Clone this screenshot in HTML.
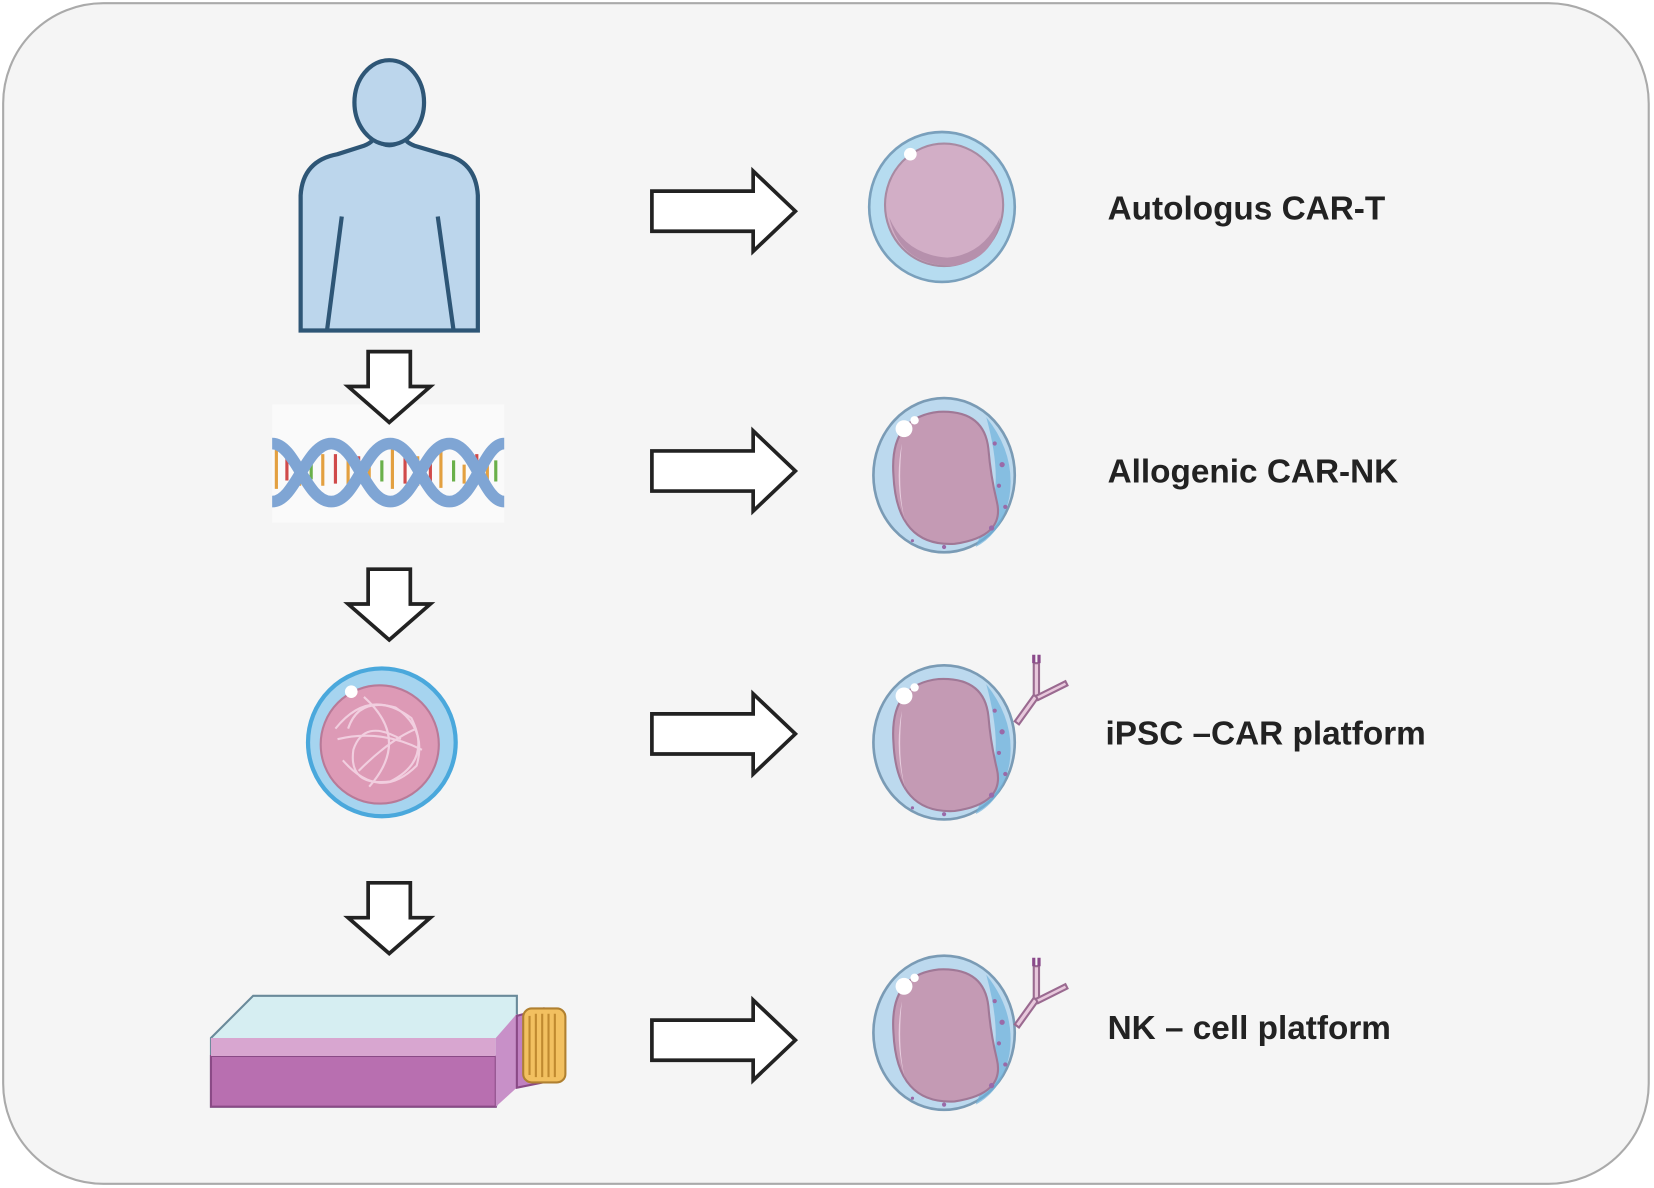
<!DOCTYPE html>
<html><head><meta charset="utf-8"><style>
html,body{margin:0;padding:0;background:#fff;}
svg{display:block;}
</style></head><body>
<svg width="1654" height="1188" viewBox="0 0 1568 1125" preserveAspectRatio="none" xmlns="http://www.w3.org/2000/svg">
<defs>
<g id="rarrow"><path d="M0,-19 H96 V-38 L136,0 L96,38 V19 H0 Z" fill="#fff" stroke="#222" stroke-width="3.5" stroke-linejoin="miter"/></g>
<g id="darrow"><path d="M-20,0 H20 V33 H39 L0,67 L-39,33 H-20 Z" fill="#fff" stroke="#222" stroke-width="3.5"/></g>
<g id="nkcell">
<ellipse cx="0" cy="0" rx="67" ry="73" fill="#bcd9ee" stroke="#7a9bb5" stroke-width="2.5"/>
<path d="M40,-55 Q68,-20 62,20 Q55,55 30,68 L45,30 Q55,0 40,-55Z" fill="#6fb2dc" opacity="0.7"/>
<path d="M-48,0 Q-52,-55 -5,-60 Q38,-62 42,-25 Q44,0 50,25 Q58,58 10,65 Q-45,68 -48,0Z" fill="#c49ab4" stroke="#a07896" stroke-width="2"/>
<path d="M-40,-30 Q-48,10 -35,50 Q-45,20 -40,-30Z" fill="#e8cfe0"/>
<circle cx="-38" cy="-44" r="8" fill="#fff"/><circle cx="-28" cy="-52" r="4" fill="#fff"/>
<g fill="#9a6aa8"><circle cx="48" cy="-30" r="2"/><circle cx="55" cy="-10" r="2.5"/><circle cx="52" cy="10" r="2"/><circle cx="58" cy="30" r="2"/><circle cx="45" cy="50" r="2.5"/><circle cx="-30" cy="62" r="1.5"/><circle cx="0" cy="68" r="2"/></g>
</g>
<g id="ab" stroke="#9a6a90" stroke-width="2" fill="#e8c8dc">
<path d="M0,0 L18,-25 L22,-22 L4,3Z"/><path d="M18,-25 L18,-55 L23,-55 L23,-22Z"/><path d="M20,-24 L48,-38 L50,-34 L22,-20Z"/>
<path d="M18,-55 v-8 M23,-55 v-8" stroke="#8a4a8a" stroke-width="3"/>
</g>
</defs>
<rect x="3" y="3" width="1560" height="1118" rx="95" ry="95" fill="#f5f5f5" stroke="#aaa" stroke-width="2"/>

<!-- person -->
<g fill="#bcd6ec" stroke="#2e5676" stroke-width="4">
<path d="M285,313 V185 Q287,152 320,146 L345,138 Q356,134 356,125 L360,135 Q369,140 378,135 L382,125 Q382,134 393,138 L420,146 Q451,152 453,185 V313 Z"/>
<ellipse cx="369" cy="97" rx="33" ry="40"/>
</g>
<g stroke="#2e5676" stroke-width="4" fill="none"><path d="M324,205 L310,313 M415,205 L430,313"/></g>

<!-- DNA -->
<rect x="258" y="383" width="220" height="112" fill="#fafafa"/>
<g stroke-width="3">
<path d="M262,425 v38 M284,440 v20 M306,430 v30 M330,425 v36 M350,440 v18 M372,425 v38 M396,432 v28 M418,428 v34 M440,440 v18 M462,426 v36" stroke="#e3a040"/>
<path d="M272,430 v25 M318,430 v28 M340,432 v24 M384,430 v28 M408,432 v26 M452,430 v28" stroke="#d04a4a"/>
<path d="M295,436 v18 M362,436 v20 M430,436 v20 M470,436 v20" stroke="#6ab04a"/>
</g>
<g fill="none" stroke="#7fa5d4" stroke-width="11">
<path d="M258,420 C280,420 290,475 314,475 C338,475 346,420 370,420 C394,420 402,475 426,475 C450,475 458,420 478,420"/>
<path d="M258,475 C280,475 290,420 314,420 C338,420 346,475 370,475 C394,475 402,420 426,420 C450,420 458,475 478,475"/>
</g>

<use href="#darrow" x="369" y="333"/>
<use href="#darrow" x="369" y="539"/>
<use href="#darrow" x="369" y="836"/>

<!-- iPSC -->
<circle cx="362" cy="703" r="70" fill="#a6d4ef" stroke="#4aa8dc" stroke-width="4"/>
<circle cx="360" cy="705" r="56" fill="#dd9ab6" stroke="#b87a98" stroke-width="2"/>
<g fill="none" stroke="#f4d4e4" stroke-width="2" opacity="0.9">
<path d="M318,690 Q350,650 390,680 Q410,720 370,740 Q330,745 335,710 Q345,680 380,700"/>
<path d="M325,720 Q360,760 395,725 Q405,690 375,670 Q340,660 330,690"/>
<path d="M345,660 Q390,700 350,745 M320,700 Q360,690 400,710 M340,730 Q370,700 395,690"/>
</g>
<circle cx="333" cy="655" r="6" fill="#fff"/>

<!-- flask -->
<path d="M200,983 L240,943 L490,943 L490,1000 L470,1048 L200,1048Z" fill="#d6eef2" stroke="#6a8a9a" stroke-width="2"/>
<path d="M200,1000 L470,1000 L470,1048 L200,1048Z" fill="#b86fb0" stroke="#8a4a86" stroke-width="2"/>
<path d="M200,983 L470,983 L470,1000 L200,1000Z" fill="#d8a6d0"/>
<path d="M470,983 L490,960 L490,1030 L470,1048Z" fill="#c890c8"/>
<path d="M490,962 L515,955 L515,1025 L490,1030Z" fill="#c080c0" stroke="#8a4a86" stroke-width="2"/>
<rect x="496" y="955" width="40" height="70" rx="8" fill="#f2c060" stroke="#b08030" stroke-width="2"/>
<g stroke="#c08a30" stroke-width="2"><path d="M502,962v56 M508,960v60 M514,960v60 M520,960v60 M526,960v60"/></g>

<!-- right arrows -->
<use href="#rarrow" x="618" y="200"/>
<use href="#rarrow" x="618" y="446"/>
<use href="#rarrow" x="618" y="695"/>
<use href="#rarrow" x="618" y="985"/>

<!-- cells -->
<g transform="translate(893,196)">
<ellipse cx="0" cy="0" rx="69" ry="71" fill="#b6dcf0" stroke="#7aa0bc" stroke-width="2.5"/>
<ellipse cx="2" cy="-2" rx="56" ry="58" fill="#d2aec6" stroke="#a88aa2" stroke-width="2"/>
<path d="M-50,10 Q-40,55 10,56 Q50,50 55,10 Q40,45 5,48 Q-35,45 -50,10Z" fill="#b690ac"/>
<circle cx="-30" cy="-50" r="6" fill="#fff"/>
</g>
<use href="#nkcell" x="895" y="450"/>
<use href="#nkcell" x="895" y="703"/>
<use href="#ab" x="962" y="683"/>
<use href="#nkcell" x="895" y="978"/>
<use href="#ab" x="962" y="970"/>

<g font-family="Liberation Sans, sans-serif" font-weight="bold" font-size="31.6" fill="#222">
<text x="1050" y="208">Autologus CAR-T</text>
<text x="1050" y="457">Allogenic CAR-NK</text>
<text x="1048" y="705">iPSC –CAR platform</text>
<text x="1050" y="984">NK – cell platform</text>
</g>
</svg>
</body></html>
